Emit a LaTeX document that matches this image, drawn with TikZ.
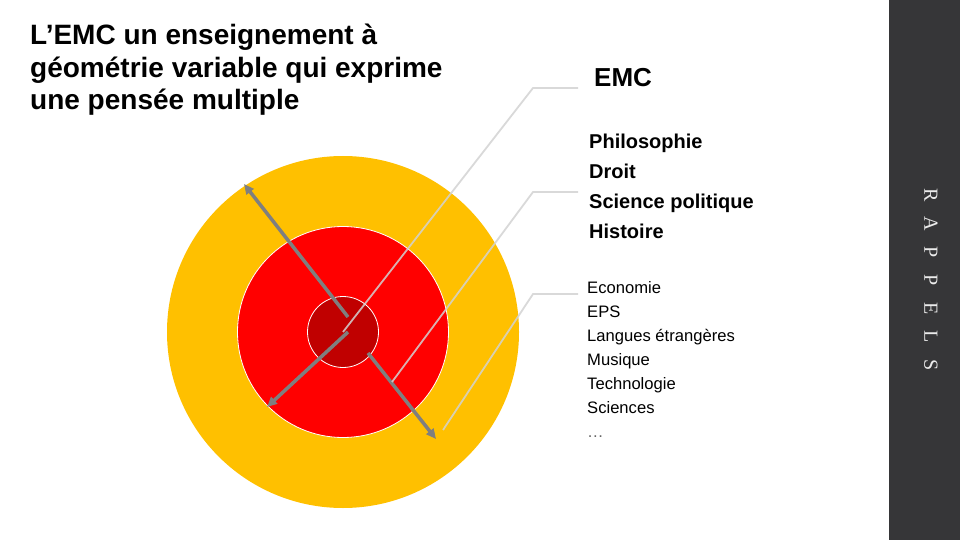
\documentclass[tikz,border=0pt]{standalone}
\usepackage{fontspec}
\setmainfont{Liberation Sans}
\newfontfamily\rappelfont{Liberation Serif}
\usetikzlibrary{arrows.meta}

\definecolor{jaune}{HTML}{FFC000}
\definecolor{rouge}{HTML}{FF0000}
\definecolor{rougefonce}{HTML}{C00000}
\definecolor{bande}{HTML}{363638}
\definecolor{fleche}{HTML}{7F7F7F}
\definecolor{renvoi}{HTML}{D2D2D2}

\tikzset{
  txt/.style={anchor=base west, inner sep=0pt},
  titre/.style={txt, font=\fontsize{28}{32}\selectfont\bfseries},
  disc/.style={txt, font=\fontsize{20}{24}\selectfont\bfseries},
  autre/.style={txt, font=\fontsize{16.6}{20}\selectfont},
  axe/.style={fleche, line width=3.5pt, -{Triangle[length=10pt,width=9pt]}},
  renvoiligne/.style={renvoi, line width=1.8pt, opacity=0.85}
}

\begin{document}
\begin{tikzpicture}[x=1pt, y=-1pt]
\useasboundingbox (0,0) rectangle (960,540);
\fill[bande] (889,0) rectangle (960,540);
\foreach \l [count=\i] in {R,A,P,P,E,L,S}
  \node[text=white!92!black, font=\rappelfont\fontsize{20}{24}\selectfont, rotate=-90, inner sep=0pt] (r\i) at (931, {195.5+28.3*(\i-1)}) {\l};
% titre
\foreach \l [count=\i] in {L’EMC un enseignement à, géométrie variable qui exprime, une pensée multiple}
  \node[titre] (t\i) at (30, {45+32.5*(\i-1)}) {\l};
% cercles
\fill[jaune] (343,332) circle (176);
\draw[white, line width=0.8pt, fill=rouge] (343,332) circle (105.5);
\draw[white, line width=0.8pt, fill=rougefonce] (343,332) circle (35.5);
\coordinate (c) at (343,332);
% fleches
\coordinate (a1) at (348,317); \coordinate (b1) at (244,184);
\coordinate (a2) at (348,332); \coordinate (b2) at (267,407);
\coordinate (a3) at (368,353); \coordinate (b3) at (436,439);
\foreach \i in {1,2,3}
  \draw[axe] (a\i) -- (b\i);
% textes
\node[txt, font=\fontsize{26}{30}\selectfont\bfseries] (emc) at (594,87) {EMC};
\foreach \l [count=\i] in {Philosophie, Droit, Science politique, Histoire}
  \node[disc] (d\i) at (589, {149+29.7*(\i-1)}) {\l};
\foreach \l [count=\i] in {Economie, EPS, Langues étrangères, Musique, Technologie, Sciences}
  \node[autre] (e\i) at (587, {293+24*(\i-1)}) {\l};
\node[autre, text=black!60] (e7) at (587,437) {…};
% renvois
\coordinate (k1) at (533,88); \coordinate (f1) at (578,88);
\coordinate (s2) at (392,382); \coordinate (k2) at (533,192); \coordinate (f2) at (578,192);
\coordinate (s3) at (443,430); \coordinate (k3) at (533,294); \coordinate (f3) at (578,294);
\draw[renvoiligne] (c) -- (k1) -- (f1);
\draw[renvoiligne] (s2) -- (k2) -- (f2);
\draw[renvoiligne] (s3) -- (k3) -- (f3);
\end{tikzpicture}
\end{document}
